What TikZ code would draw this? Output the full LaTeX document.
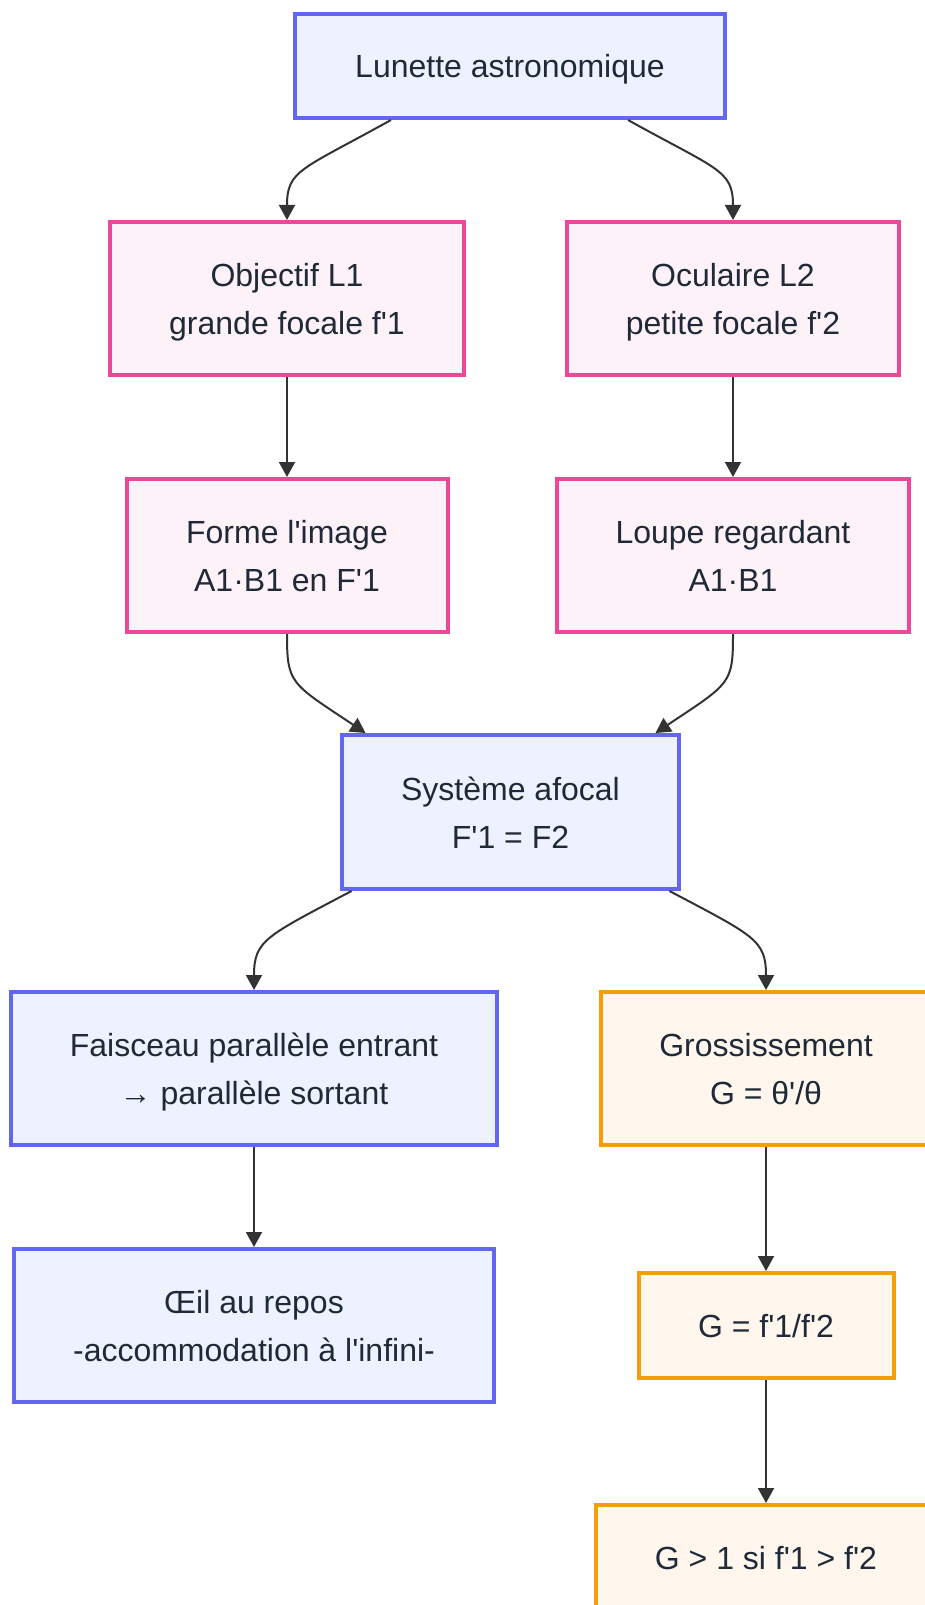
\documentclass[tikz,border=0pt]{standalone}
\usepackage{fontspec}
\setmainfont{Liberation Sans}[Ligatures=TeXOff]
\usetikzlibrary{arrows.meta}

\definecolor{bleuFond}{HTML}{EEF2FF}
\definecolor{bleuTrait}{HTML}{6366F1}
\definecolor{roseFond}{HTML}{FDF2F8}
\definecolor{roseTrait}{HTML}{EC4899}
\definecolor{orFond}{HTML}{FFF7ED}
\definecolor{orTrait}{HTML}{F59E0B}
\definecolor{texte}{HTML}{1F2937}
\definecolor{gris}{HTML}{333333}
\newcommand{\puntal}{\rule[-8pt]{0pt}{40pt}}

\begin{document}
\begin{tikzpicture}[x=1pt,y=-1pt]
% estilos separados
\tikzset{
  caja/.style={rectangle, draw, line width=4pt, inner sep=0pt, align=center,
    text=texte, font=\fontsize{32}{48}\selectfont,
    execute at end node=\puntal},
  azul/.style={caja, draw=bleuTrait, fill=bleuFond},
  rosa/.style={caja, draw=roseTrait, fill=roseFond},
  naranja/.style={caja, draw=orTrait, fill=orFond},
  flecha/.style={draw=gris, line width=2pt, -{Triangle[length=15pt,width=16pt]}}
}
\useasboundingbox[fill=white] (0,0) rectangle (925,1605);

\node[azul, minimum width=430pt, minimum height=104pt] (lun) at (510,66) {Lunette astronomique};
\node[rosa, minimum width=354pt, minimum height=153pt] (obj) at (287,298.5) {\puntal Objectif L1\\grande focale f'1};
\node[rosa, minimum width=332pt, minimum height=153pt] (ocu) at (733,298.5) {\puntal Oculaire L2\\petite focale f'2};
\node[rosa, minimum width=321pt, minimum height=153pt] (img) at (287,555.5) {\puntal Forme l'image\\A1·B1 en F'1};
\node[rosa, minimum width=352pt, minimum height=153pt] (lou) at (733,555.5) {\puntal Loupe regardant\\A1·B1};
\node[azul, minimum width=337pt, minimum height=154pt] (afo) at (510.5,812) {\puntal Système afocal\\F'1 = F2};
\node[azul, minimum width=486pt, minimum height=153pt] (fai) at (254,1068.5) {\puntal Faisceau parallèle entrant\\→ parallèle sortant};
\node[naranja, minimum width=330pt, minimum height=153pt] (gro) at (766,1068.5) {\puntal Grossissement\\G = θ'/θ};
\node[azul, minimum width=480pt, minimum height=153pt] (oei) at (254,1325.5) {\puntal Œil au repos\\-accommodation à l'infini-};
\node[naranja, minimum width=255pt, minimum height=105pt] (gf) at (766,1325.5) {G = f'1/f'2};
\node[naranja, minimum width=340pt, minimum height=104pt] (gsup) at (766,1557) {G > 1 si f'1 > f'2};

% conexiones
\draw[flecha] ([xshift=-119pt]lun.south) .. controls +(-90,50) and +(0,-50) .. (obj.north);
\draw[flecha] ([xshift=118pt]lun.south) .. controls +(90,50) and +(0,-50) .. (ocu.north);
\draw[flecha] (obj.south) -- (img.north);
\draw[flecha] (ocu.south) -- (lou.north);
\draw[flecha] (img.south) .. controls +(0,50) and +(-75,-50) .. ([xshift=-145pt]afo.north);
\draw[flecha] (lou.south) .. controls +(0,50) and +(75,-50) .. ([xshift=145pt]afo.north);
\draw[flecha] ([xshift=-159pt]afo.south) .. controls +(-85,45) and +(0,-50) .. (fai.north);
\draw[flecha] ([xshift=159pt]afo.south) .. controls +(85,45) and +(0,-50) .. (gro.north);
\draw[flecha] (fai.south) -- (oei.north);
\draw[flecha] (gro.south) -- (gf.north);
\draw[flecha] (gf.south) -- (gsup.north);
\end{tikzpicture}
\end{document}
